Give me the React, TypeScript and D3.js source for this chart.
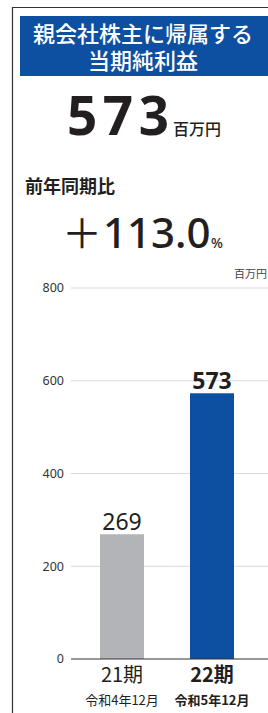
import * as React from 'react';
import * as d3 from 'd3';

const periods: string[] = ['21期', '22期'];
const dates: string[] = ['令和4年12月', '令和5年12月'];
const values: number[] = [269, 573];
const yTicks: number[] = [0, 200, 400, 600, 800];

const titleLines = ['親会社株主に帰属する', '当期純利益'];
const headline = '573';
const unit = '百万円';
const yoyLabel = '前年同期比';
const yoyValue = '113.0';

const W = 268;
const H = 713;
const blue = '#0d4fa0';
const gray = '#b3b4b8';
const jp = '"Noto Sans CJK JP", "Noto Sans", sans-serif';
const num = '"Noto Sans", "Noto Sans CJK JP", sans-serif';

const App = () => {
    const y = d3.scaleLinear().domain([0, 800]).range([659, 288]);
    const x = d3.scaleBand<string>()
        .domain(periods)
        .range([55, 279])
        .paddingInner(0.511)
        .paddingOuter(0.5);

    return (
        <svg width={W} height={H} style={{ position: 'absolute', left: 0, top: 0 }} fontFamily={jp}>
            <rect x={0} y={0} width={W} height={H} fill="#fff" />
            <line x1={12.5} x2={12.5} y1={7} y2={H} stroke="#333" strokeWidth={1.2} />
            <line x1={12} x2={W} y1={7.5} y2={7.5} stroke="#333" strokeWidth={1.2} />

            <rect x={20} y={16} width={W - 20} height={60} fill={blue} />
            <text textAnchor="middle" fill="#fff" fontSize={22} fontWeight={500}>
                <tspan x={143} y={42}>{titleLines[0]}</tspan>
                <tspan x={143} y={69}>{titleLines[1]}</tspan>
            </text>

            <text x={67} y={135} fontSize={53} fontWeight={700} fill="#231f20" fontFamily={num} letterSpacing={5.5}>{headline}</text>
            <text x={173} y={135} fontSize={16} fontWeight={500} fill="#231f20">{unit}</text>

            <text x={25} y={193} fontSize={18} fontWeight={700} fill="#231f20">{yoyLabel}</text>
            <text x={62} y={248} fontSize={40} fontWeight={400} fill="#231f20">＋</text>
            <text x={103} y={248} fontSize={42} fontWeight={500} fill="#231f20" fontFamily={num}>{yoyValue}</text>
            <text x={211} y={248} fontSize={14} fontWeight={500} fill="#231f20" fontFamily={num}>%</text>

            <text x={267} y={278} textAnchor="end" fontSize={11} fill="#444">{unit}</text>

            {yTicks.map(t => (
                <g key={t}>
                    {t !== 0 && <line x1={71} x2={W} y1={y(t)} y2={y(t)} stroke="#d9d9d9" strokeWidth={1} />}
                    <text x={64} y={y(t)} dy="0.35em" textAnchor="end" fontSize={12.5} fill="#333" fontFamily={num}>{t}</text>
                </g>
            ))}

            {periods.map((p, i) => {
                const bx = x(p)!;
                const bw = x.bandwidth();
                const cx = bx + bw / 2;
                const last = i === periods.length - 1;
                return (
                    <g key={p}>
                        <rect x={bx} y={y(values[i])} width={bw} height={y(0) - y(values[i])} fill={last ? blue : gray} />
                        <text x={cx} y={y(values[i]) - 4} textAnchor="middle" fontSize={23}
                            fontWeight={last ? 700 : 400} fill="#231f20" fontFamily={num}>{values[i]}</text>
                        <text x={cx} y={682} textAnchor="middle" fontSize={20}
                            fontWeight={last ? 700 : 400} fill="#231f20">{p}</text>
                        <text x={cx} y={705} textAnchor="middle" fontSize={13}
                            fontWeight={last ? 700 : 400} fill="#231f20">{dates[i]}</text>
                    </g>
                );
            })}

            <line x1={71} x2={W} y1={y(0)} y2={y(0)} stroke="#333" strokeWidth={1.2} />
        </svg>
    );
};

export default App;
